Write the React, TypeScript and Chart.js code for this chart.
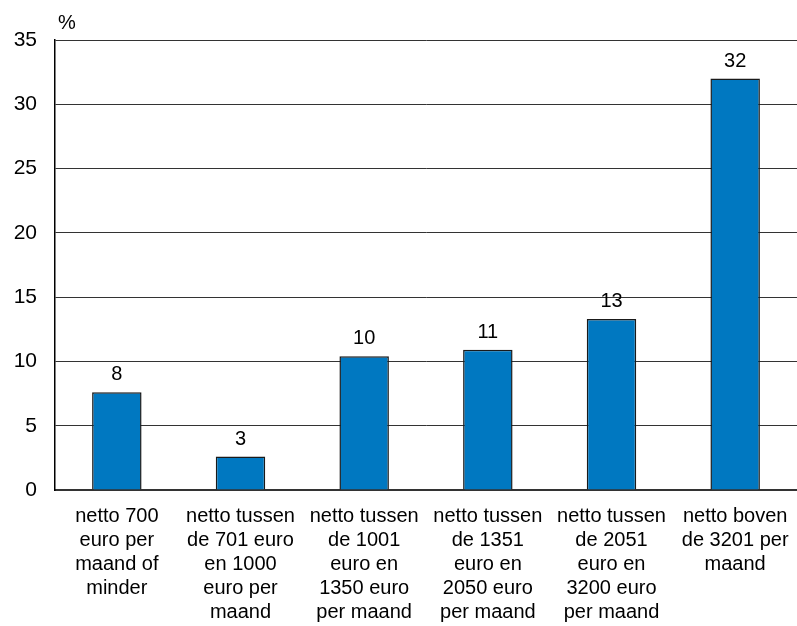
import React, { useEffect, useRef } from "react";
import { Chart, registerables } from "chart.js";

Chart.register(...registerables);

const categories: string[][] = [
  ["netto 700", "euro per", "maand of", "minder"],
  ["netto tussen", "de 701 euro", "en 1000", "euro per", "maand"],
  ["netto tussen", "de 1001", "euro en", "1350 euro", "per maand"],
  ["netto tussen", "de 1351", "euro en", "2050 euro", "per maand"],
  ["netto tussen", "de 2051", "euro en", "3200 euro", "per maand"],
  ["netto boven", "de 3201 per", "maand"],
];
const values: number[] = [7.6, 2.6, 10.4, 10.9, 13.3, 32.0];
const valueLabels: string[] = ["8", "3", "10", "11", "13", "32"];
const yTicks: number[] = [0, 5, 10, 15, 20, 25, 30, 35];
const unitLabel = "%";

const FONT = "Arial, 'Liberation Sans', sans-serif";

export default function App() {
  const ref = useRef<HTMLCanvasElement | null>(null);
  useEffect(() => {
    if (!ref.current) return;
    const labelPlugin = {
      id: "valueLabels",
      afterDatasetsDraw(chart: any) {
        const ctx = chart.ctx;
        const meta = chart.getDatasetMeta(0);
        ctx.save();
        ctx.font = `20px ${FONT}`;
        ctx.fillStyle = "#000";
        ctx.textAlign = "center";
        ctx.textBaseline = "alphabetic";
        meta.data.forEach((bar: any, i: number) => {
          ctx.fillText(valueLabels[i], bar.x, bar.y - 12);
        });
        ctx.textAlign = "left";
        ctx.fillText(unitLabel, chart.chartArea.left + 3, chart.chartArea.top - 11);
        ctx.restore();
      },
    };
    const chart = new Chart(ref.current, {
      type: "bar",
      data: {
        labels: categories,
        datasets: [
          {
            data: values,
            backgroundColor: "#0078C1",
            borderColor: "#1a1a1a",
            borderWidth: 1.5,
            barPercentage: 0.4,
            categoryPercentage: 1,
          },
        ],
      },
      options: {
        animation: false,
        responsive: false,
        maintainAspectRatio: false,
        layout: { padding: { top: 40, right: 0, left: 0, bottom: 0 } },
        plugins: { legend: { display: false }, tooltip: { enabled: false } },
        scales: {
          x: {
            grid: { display: false, drawTicks: false },
            border: { color: "#333", width: 2 },
            ticks: {
              color: "#000",
              font: { size: 20, family: FONT, lineHeight: 1.2 },
              padding: 14,
              maxRotation: 0,
              autoSkip: false,
            },
            afterFit: (s: any) => {
              s.height = 136;
              s.paddingRight = 0;
              s.paddingLeft = 0;
            },
          },
          y: {
            min: 0,
            max: 35,
            afterBuildTicks: (s: any) => {
              s.ticks = yTicks.map((v) => ({ value: v }));
            },
            grid: { color: "#333", lineWidth: 1, drawTicks: false },
            border: { color: "#000", width: 1.5 },
            ticks: {
              color: "#000",
              font: { size: 21, family: FONT },
              padding: 18,
            },
            afterFit: (s: any) => {
              s.width = 55;
            },
          },
        },
      },
      plugins: [labelPlugin],
    });
    return () => chart.destroy();
  }, []);
  return (
    <div style={{ position: "fixed", left: 0, top: 0, width: 797, height: 626, background: "#fff" }}>
      <canvas ref={ref} width={797} height={626} style={{ width: 797, height: 626 }} />
    </div>
  );
}
